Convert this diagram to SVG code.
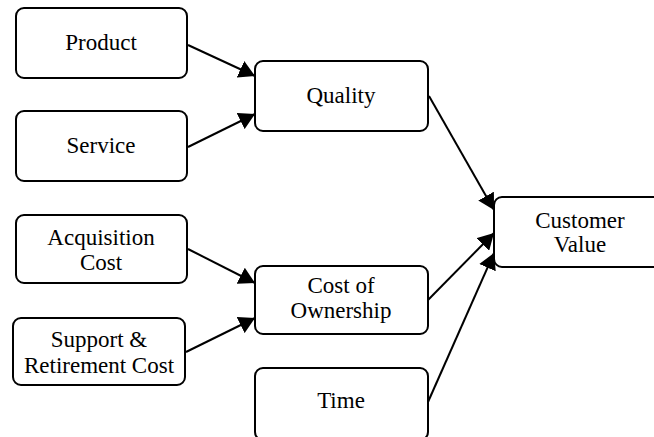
<svg xmlns="http://www.w3.org/2000/svg" width="654" height="437" viewBox="0 0 654 437">
<style>
.box{fill:#fff;stroke:#000;stroke-width:2}
text{font-family:'Liberation Serif','Times New Roman',Times,'DejaVu Serif',serif;font-size:23px;fill:#000;text-anchor:middle}
.edge{stroke:#000;stroke-width:2;fill:none;marker-end:url(#ah)}
</style>
<defs>
<marker id="ah" markerUnits="userSpaceOnUse" markerWidth="17" markerHeight="18" refX="16" refY="9" orient="auto" viewBox="0 0 17 18">
<path d="M0,0 L16,9 L0,18 z" fill="#000"/>
</marker>
</defs>
<rect width="654" height="437" fill="#fff"/>
<g id="connectors">
<line class="edge" x1="188" y1="45" x2="255" y2="76"/>
<line class="edge" x1="188" y1="147" x2="255" y2="114"/>
<line class="edge" x1="188" y1="249" x2="255" y2="283"/>
<line class="edge" x1="186" y1="352" x2="255" y2="318"/>
<line class="edge" x1="429" y1="96" x2="494" y2="210"/>
<line class="edge" x1="428" y1="300" x2="494" y2="233"/>
<line class="edge" x1="428" y1="402" x2="494" y2="253"/>
</g>
<g id="product"><rect class="box" x="16" y="8" width="171" height="70" rx="8"/><text x="101" y="50">Product</text></g>
<g id="service"><rect class="box" x="16" y="111" width="171" height="70" rx="8"/><text x="101" y="153">Service</text></g>
<g id="quality"><rect class="box" x="255" y="61" width="173" height="70" rx="8"/><text x="341" y="103">Quality</text></g>
<g id="acquisition"><rect class="box" x="16" y="215" width="171" height="68" rx="8"/><text x="101" y="245">Acquisition</text><text x="101" y="270">Cost</text></g>
<g id="support"><rect class="box" x="13" y="318" width="172" height="67" rx="8"/><text x="99" y="347">Support &amp;</text><text x="99" y="373">Retirement Cost</text></g>
<g id="cost-of-ownership"><rect class="box" x="255" y="266" width="173" height="68" rx="8"/><text x="341" y="293">Cost of</text><text x="341" y="318">Ownership</text></g>
<g id="time"><rect class="box" x="255" y="368" width="173" height="72" rx="8"/><text x="341" y="408">Time</text></g>
<g id="customer-value"><rect class="box" x="494" y="197" width="172" height="70" rx="8"/><text x="580" y="228">Customer</text><text x="580" y="252">Value</text></g>
</svg>
